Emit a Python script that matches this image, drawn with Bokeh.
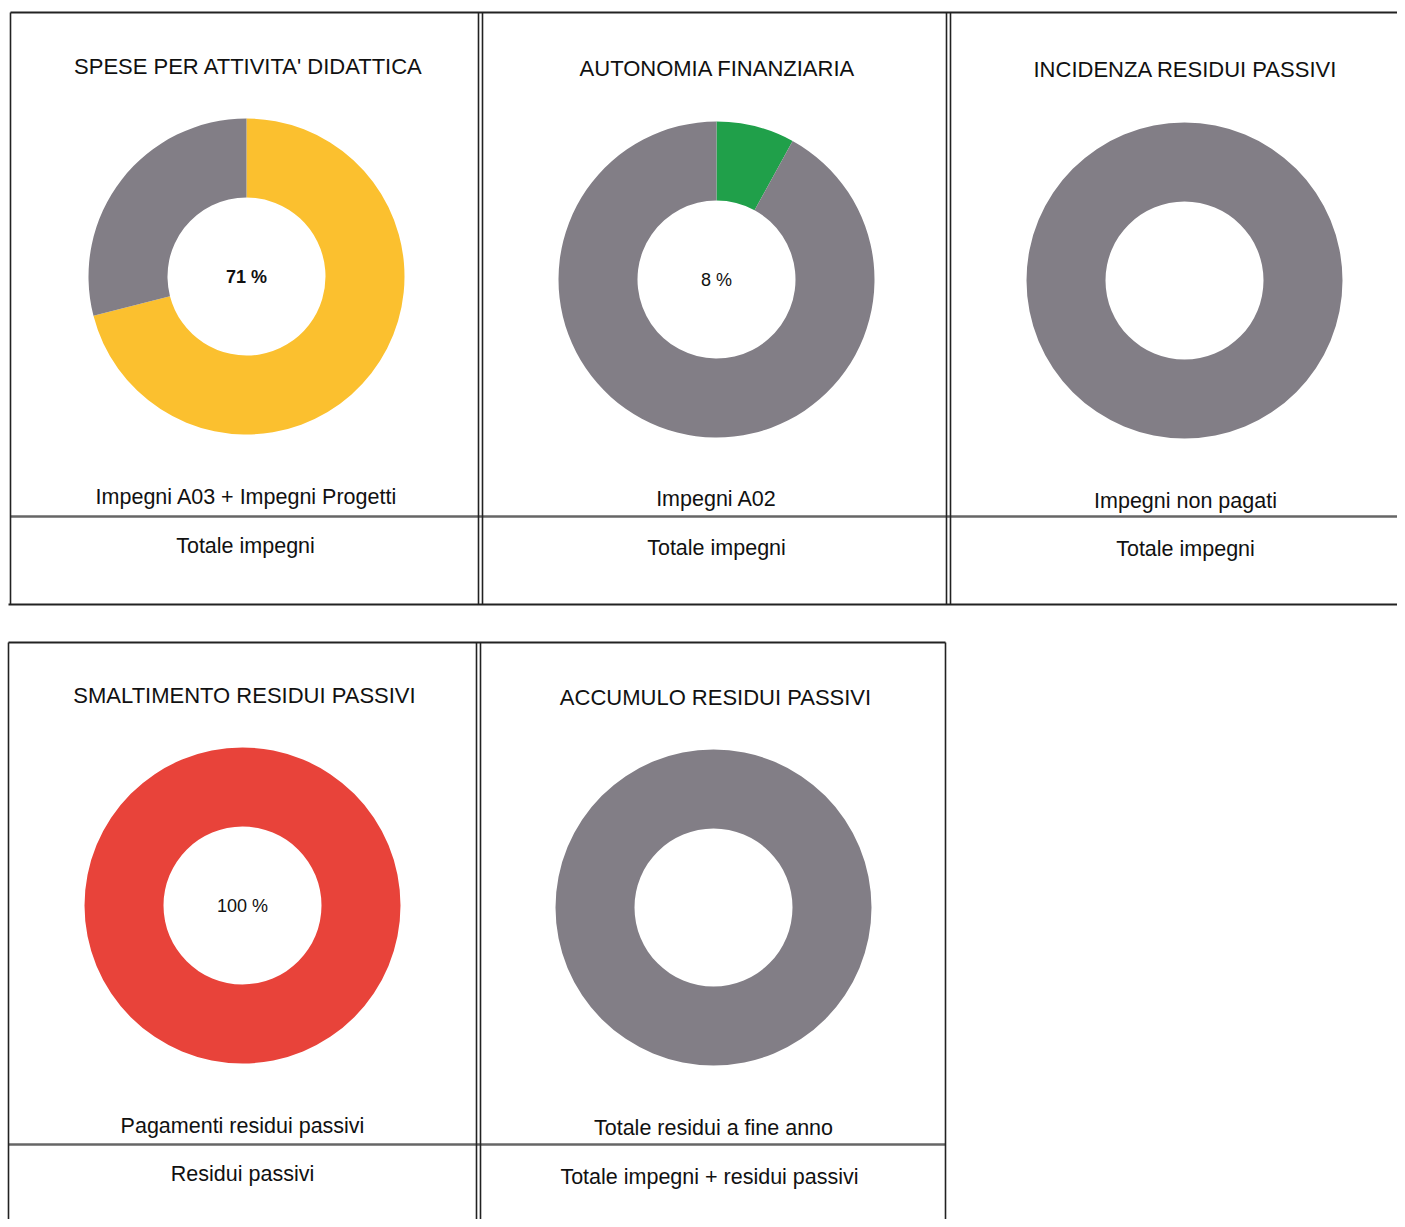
import numpy as np
from bokeh.plotting import figure
from bokeh.models import Range1d
from bokeh.core.properties import value
from bokeh.embed import file_html
from bokeh.resources import INLINE

# ---- data ----
titles = ["SPESE PER ATTIVITA' DIDATTICA", "AUTONOMIA FINANZIARIA", "INCIDENZA RESIDUI PASSIVI",
          "SMALTIMENTO RESIDUI PASSIVI", "ACCUMULO RESIDUI PASSIVI"]
numerators = ["Impegni A03 + Impegni Progetti", "Impegni A02", "Impegni non pagati",
              "Pagamenti residui passivi", "Totale residui a fine anno"]
denominators = ["Totale impegni", "Totale impegni", "Totale impegni",
                "Residui passivi", "Totale impegni + residui passivi"]
share = [71, 8, 0, 100, 0]
rest = [29, 92, 100, 0, 100]
pct_labels = ["71 %", "8 %", "", "100 %", ""]
share_colors = ["#FBC02F", "#20A04A", "#827E86", "#E8433A", "#827E86"]
rest_color = "#827E86"

# ---- layout (pixel space of the page) ----
cx = [246, 716, 1184, 242, 713]
cy = [276, 279, 280, 905, 907]
title_y = [66, 68, 69, 695, 697]
num_y = [496, 498, 500, 1125, 1127]
den_y = [545, 547, 548, 1173, 1176]
num_x = [246, 716, 1185, 242, 713]
den_x = [245, 716, 1185, 242, 709]
title_x = [248, 717, 1185, 244, 715]
R_OUT, R_IN = 158, 79

FONT = value("Liberation Sans")

p = figure(width=1397, height=1219, x_range=Range1d(0, 1397), y_range=Range1d(1219, 0),
           output_backend="svg", toolbar_location=None, min_border=0,
           x_axis_location=None, y_axis_location=None)
p.grid.visible = False
p.outline_line_color = None
p.background_fill_color = "white"
p.border_fill_color = "white"

# ---- frame lines ----
frame_h = [  # (x0, x1, y, color, width)
    (10, 1405, 12, "#222222", 2),
    (10, 1405, 516, "#666666", 2.5),
    (8, 1405, 604, "#222222", 2),
    (8, 945, 642, "#222222", 2),
    (8, 945, 1144, "#666666", 2.5),
]
for x0, x1, y, c, w in frame_h:
    p.segment(x0=[x0], y0=[y], x1=[x1], y1=[y], line_color=c, line_width=w)
frame_v = [  # (x, y0, y1)
    (10, 12, 604), (478, 12, 604), (482, 12, 604), (946, 12, 604), (950, 12, 604),
    (8, 642, 1227), (476, 642, 1227), (480, 642, 1227), (945, 642, 1227),
]
for x, y0, y1 in frame_v:
    p.segment(x0=[x], y0=[y0], x1=[x], y1=[y1], line_color="#222222", line_width=1.6)

# ---- donuts ----
for i in range(5):
    vals = [share[i], rest[i]]
    cols = [share_colors[i], rest_color]
    total = float(sum(vals))
    cum = 0.0
    for v, c in zip(vals, cols):
        if v <= 0:
            continue
        if v >= total:
            p.annulus(x=[cx[i]], y=[cy[i]], inner_radius=R_IN, outer_radius=R_OUT,
                      fill_color=c, line_color=None)
        else:
            a0 = np.pi / 2 - 2 * np.pi * cum / total
            a1 = np.pi / 2 - 2 * np.pi * (cum + v) / total
            p.annular_wedge(x=[cx[i]], y=[cy[i]], inner_radius=R_IN, outer_radius=R_OUT,
                            start_angle=[a0], end_angle=[a1], direction="clock",
                            fill_color=c, line_color=None)
        cum += v
    if pct_labels[i]:
        p.text(x=[cx[i]], y=[cy[i]], text=[pct_labels[i]], text_align="center",
               text_baseline="middle", text_font=FONT, text_font_size="18px",
               text_font_style="bold" if i == 0 else "normal", text_color="#111111")

# ---- texts ----
p.text(x=title_x, y=title_y, text=titles, text_align="center", text_baseline="middle",
       text_font=FONT, text_font_size="22px", text_color="#111111")
p.text(x=num_x, y=num_y, text=numerators, text_align="center", text_baseline="middle",
       text_font=FONT, text_font_size="21.5px", text_color="#111111")
p.text(x=den_x, y=den_y, text=denominators, text_align="center", text_baseline="middle",
       text_font=FONT, text_font_size="21.5px", text_color="#111111")

open("out.html", "w").write(file_html(p, INLINE))
